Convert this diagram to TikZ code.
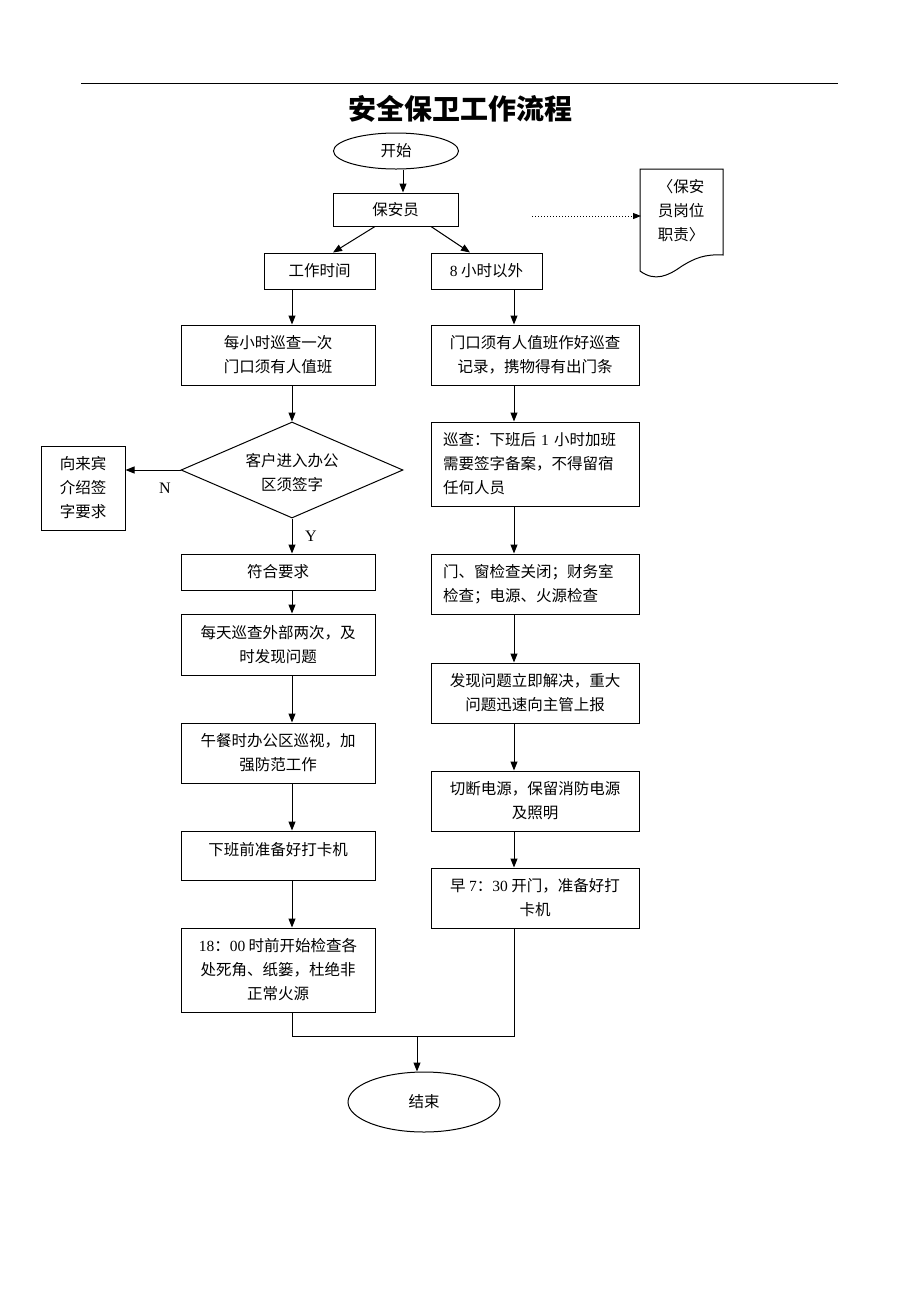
\documentclass[tikz,border=0pt]{standalone}
\usepackage{fontspec}
\setmainfont{Liberation Serif}
\newfontfamily\cjk{Noto Sans CJK SC}
\newfontfamily\latnfont{Liberation Serif}
\newcommand\latn[1]{{\latnfont #1}}
\usetikzlibrary{arrows.meta,shapes.geometric}
\begin{document}
\begin{tikzpicture}[x=1pt,y=-1pt,
  every node/.style={font=\cjk\fontsize{15.5}{24}\selectfont},
  box/.style={draw, line width=1pt, rectangle, inner sep=0pt, align=center},
  lbox/.style={draw, line width=1pt, rectangle, inner xsep=12pt, inner ysep=0pt, align=left, text width=184pt},
  oval/.style={draw, line width=1pt, ellipse, inner sep=0pt},
  arr/.style={line width=1pt, -{Triangle[length=9pt,width=7pt]}},
  ln/.style={line width=1pt},
  lab/.style={font=\latnfont\fontsize{16}{20}\selectfont}]
\useasboundingbox (0,0) rectangle (920,1302);
% top rule and title
\draw[line width=1pt] (81,83) -- (838,83);
\node[font=\cjk\bfseries\fontsize{28}{28}\selectfont] (title) at (460,109) {安全保卫工作流程};
% nodes
\node[oval, minimum width=125pt, minimum height=36pt] (start) at (396,151) {开始};
\node[box, minimum width=125pt, minimum height=33pt] (guard) at (395.5,209.5) {保安员};
\node[box, minimum width=111pt, minimum height=36pt] (wt) at (319.5,271) {工作时间};
\node[box, minimum width=111pt, minimum height=36pt] (ot) at (486.5,271) {\latn{8} 小时以外};
% document shape
\draw[line width=1pt] (640,271) -- (640,169) -- (723,169) -- (723,255)
   .. controls (705,254) and (695,258) .. (682,266)
   .. controls (668,276) and (655,282) .. (640,271);
\node[align=left] (doc) at (681,211) {〈保安\\员岗位\\职责〉};
\coordinate (dotA) at (532,216);
\coordinate (docL) at (641,216);
\draw[line width=1pt, dotted, -{Triangle[length=8pt,width=6pt]}] (dotA) -- (docL);
% left column
\node[box, minimum width=194pt, minimum height=60pt] (h1) at (278,355) {每小时巡查一次\\门口须有人值班};
\node[draw, line width=1pt, diamond, inner sep=0pt, minimum width=222pt, minimum height=96pt] (dia) at (292,470) {};
\node[align=center] (diat) at (292,473) {客户进入办公\\区须签字};
\node[box, minimum width=84pt, minimum height=84pt] (guest) at (83,488) {向来宾\\介绍签\\字要求};
\node[box, minimum width=194pt, minimum height=36pt] (ok) at (278,572) {符合要求};
\node[box, minimum width=194pt, minimum height=61pt] (h2) at (278,644.5) {每天巡查外部两次，及\\时发现问题};
\node[box, minimum width=194pt, minimum height=60pt] (h3) at (278,753) {午餐时办公区巡视，加\\强防范工作};
\node[box, minimum width=194pt, minimum height=49pt] (h4) at (278,855.5) {};
\node (h4t) at (278,850) {下班前准备好打卡机};
\node[box, minimum width=194pt, minimum height=84pt] (h5) at (278,970) {\latn{18}：\latn{00} 时前开始检查各\\处死角、纸篓，杜绝非\\正常火源};
% right column
\node[box, minimum width=208pt, minimum height=60pt] (o1) at (535,355) {门口须有人值班作好巡查\\记录，携物得有出门条};
\node[lbox, minimum height=84pt] (o2) at (535,464) {巡查：下班后 \latn{1} 小时加班\\需要签字备案，不得留宿\\任何人员};
\node[lbox, minimum height=60pt] (o3) at (535,584) {门、窗检查关闭；财务室\\检查；电源、火源检查};
\node[box, minimum width=208pt, minimum height=60pt] (o4) at (535,693) {发现问题立即解决，重大\\问题迅速向主管上报};
\node[box, minimum width=208pt, minimum height=60pt] (o5) at (535,801) {切断电源，保留消防电源\\及照明};
\node[box, minimum width=208pt, minimum height=60pt] (o6) at (535,898) {早 \latn{7}：\latn{30} 开门，准备好打\\卡机};
\node[oval, minimum width=152pt, minimum height=60pt] (end) at (424,1102) {结束};
% connectors
\draw[arr] ([xshift=7pt]start.south) -- ([xshift=7.5pt]guard.north);
\draw[arr] ([xshift=-20.5pt]guard.south) -- ([xshift=13.5pt]wt.north);
\draw[arr] ([xshift=35.5pt]guard.south) -- ([xshift=-16.5pt]ot.north);
\draw[arr] ([xshift=-27.5pt]wt.south) -- ([xshift=14pt]h1.north);
\draw[arr] ([xshift=27.5pt]ot.south) -- ([xshift=-21pt]o1.north);
\draw[arr] ([xshift=14pt]h1.south) -- (dia.north);
\draw[arr] (dia.west) -- (dia.west -| guest.east);
\node[lab] (nlab) at (165,488) {N};
\draw[arr] (dia.south) -- ([xshift=14pt]ok.north);
\node[lab] (ylab) at (311,536) {Y};
\draw[arr] ([xshift=14pt]ok.south) -- ([xshift=14pt]h2.north);
\draw[arr] ([xshift=14pt]h2.south) -- ([xshift=14pt]h3.north);
\draw[arr] ([xshift=14pt]h3.south) -- ([xshift=14pt]h4.north);
\draw[arr] ([xshift=14pt]h4.south) -- ([xshift=14pt]h5.north);
\draw[arr] ([xshift=-21pt]o1.south) -- ([xshift=-21pt]o2.north);
\draw[arr] ([xshift=-21pt]o2.south) -- ([xshift=-21pt]o3.north);
\draw[arr] ([xshift=-21pt]o3.south) -- ([xshift=-21pt]o4.north);
\draw[arr] ([xshift=-21pt]o4.south) -- ([xshift=-21pt]o5.north);
\draw[arr] ([xshift=-21pt]o5.south) -- ([xshift=-21pt]o6.north);
\coordinate (mL) at (292,1036);
\coordinate (mR) at (514,1036);
\coordinate (mC) at (417,1036);
\draw[ln] ([xshift=14pt]h5.south) -- (mL) -- (mR) -- ([xshift=-21pt]o6.south);
\draw[arr] (mC) -- ([xshift=-7pt]end.north);
\end{tikzpicture}
\end{document}
